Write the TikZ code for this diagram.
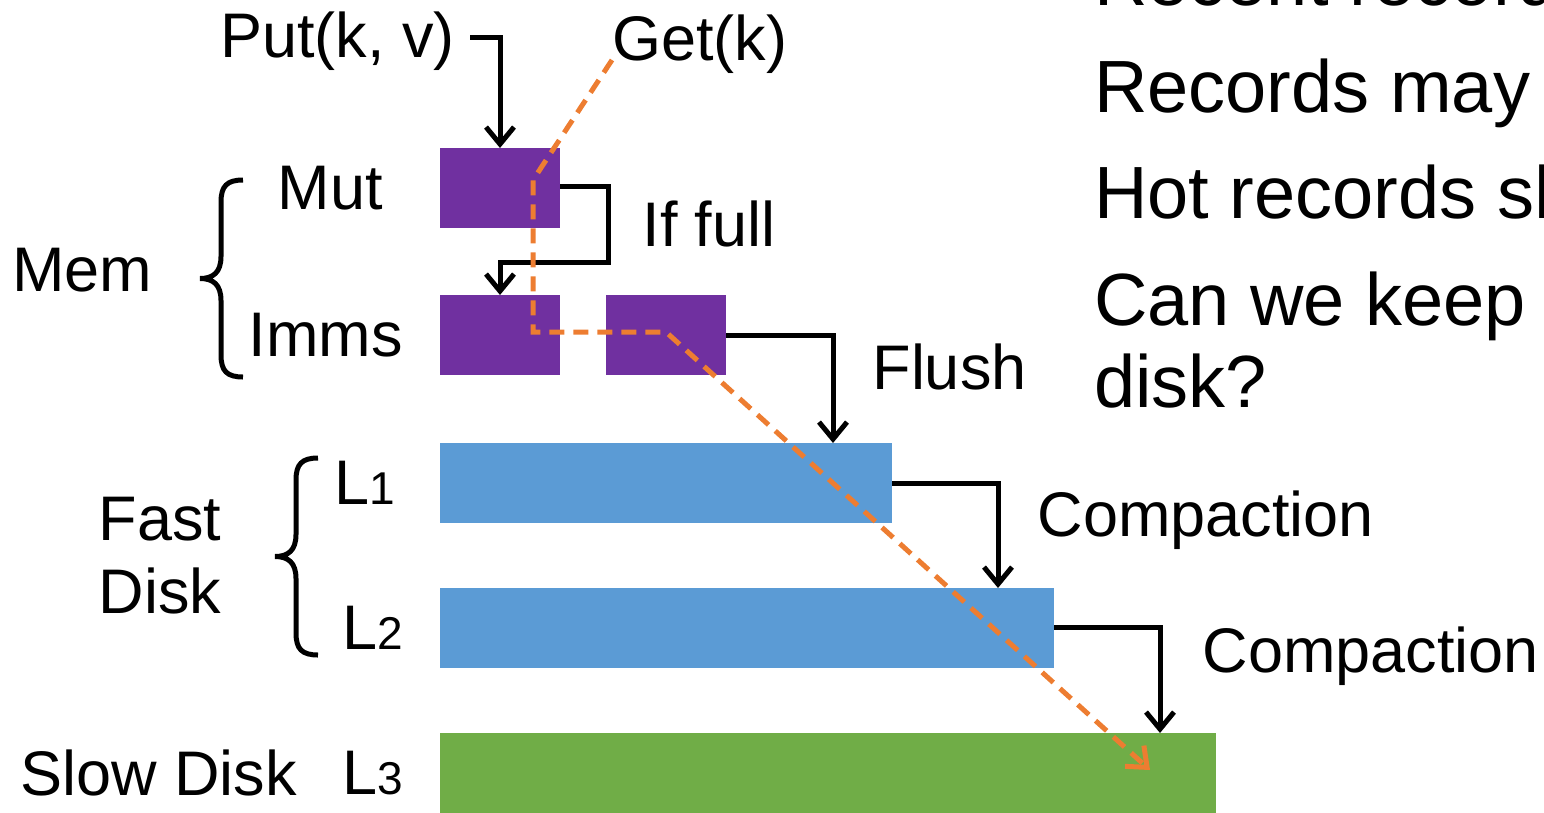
\documentclass[tikz,border=0pt]{standalone}
\usepackage{fontspec}
\setmainfont{Liberation Sans}
\usepackage{xcolor}
\usetikzlibrary{arrows.meta,positioning}

\definecolor{memcol}{HTML}{7030A0}
\definecolor{fastcol}{HTML}{5B9BD5}
\definecolor{slowcol}{HTML}{70AD47}
\definecolor{getcol}{HTML}{ED7D31}
\newcommand{\lvlsub}[1]{{\fontsize{46}{50}\selectfont #1}}

\begin{document}
\begin{tikzpicture}[
  x=1pt, y=-1pt,
  node distance=67pt and 46pt,
  memtab/.style={fill=memcol, minimum width=120pt, minimum height=80pt, inner sep=0pt, outer sep=0pt},
  level/.style={fill=#1, minimum height=80pt, inner sep=0pt, outer sep=0pt},
  lbl/.style={inner sep=0pt, font=\fontsize{63}{73}\selectfont},
  note/.style={inner sep=0pt, anchor=base west, font=\fontsize{74}{82}\selectfont},
  arr/.style={-{Straight Barb[length=17pt,width=28pt]}, line width=5pt},
  getline/.style={-{Straight Barb[length=17pt,width=28pt]}, line width=5pt, draw=getcol, dash pattern=on 15pt off 9pt},
  grp/.style={line width=5pt}
]
  \useasboundingbox (0,0) rectangle (1544,812);

  % memtables
  \node[memtab] (mut) at (500,188) {};
  \node[memtab, below=of mut] (imm1) {};
  \node[memtab, right=of imm1] (imm2) {};

  % disk levels
  \node[level=fastcol, minimum width=452pt, below=68pt of imm1.south west, anchor=north west] (l1) {};
  \node[level=fastcol, minimum width=614pt, below=65pt of l1.south west, anchor=north west] (l2) {};
  \node[level=slowcol, minimum width=776pt, below=65pt of l2.south west, anchor=north west] (l3) {};

  % labels on the left
  \node[lbl, left=57pt of mut] (mutlab) {Mut};
  \node[lbl, left=37pt of imm1] (immlab) {Imms};
  \node[lbl, left=45pt of l1] (l1lab) {L\lvlsub{1}};
  \node[lbl, left=37pt of l2] (l2lab) {L\lvlsub{2}};
  \node[lbl, left=37pt of l3] (l3lab) {L\lvlsub{3}};
  \node[lbl, left=45pt of l3lab] (slow) {Slow Disk};
  \node[lbl] (mem) at (82,270) {Mem};
  \node[lbl, align=left] (fast) at (160,556) {Fast\\Disk};

  % braces: end x / top / bottom
  \foreach \bx/\btop/\bbot in {243/180/377, 318/458/655} {
    \pgfmathsetmacro{\bmid}{(\btop+\bbot)/2}
    \draw[grp] (\bx,\btop) .. controls (\bx-16,\btop) and (\bx-22,\btop+6) .. (\bx-22,\btop+22)
      -- (\bx-22,\bmid-22) .. controls (\bx-22,\bmid-6) and (\bx-30,\bmid) .. (\bx-43,\bmid)
      .. controls (\bx-30,\bmid) and (\bx-22,\bmid+6) .. (\bx-22,\bmid+22)
      -- (\bx-22,\bbot-22) .. controls (\bx-22,\bbot-6) and (\bx-16,\bbot) .. (\bx,\bbot);
  }

  % operations
  \node[lbl, inner xsep=15pt, anchor=base east] (put) at (470,57) {Put(k, v)};
  \node[lbl, anchor=base west] (get) at (612,60) {Get(k)};

  \draw[arr] ([yshift=3pt]put.east) -| (mut.north);
  \draw[arr] ([yshift=2pt]mut.east) -- ++(48,0) -- node[lbl, right=32pt]{If full} ++(0,76) -| (imm1.north);

  \coordinate (flushin) at ([xshift=-59pt]l1.north east);
  \coordinate (cmp1in) at ([xshift=-56pt]l2.north east);
  \coordinate (cmp2in) at ([xshift=-56pt]l3.north east);
  \draw[arr] (imm2.east) -| node[lbl, pos=0.65, right=37pt]{Flush} (flushin);
  \draw[arr] (l1.east) -| node[lbl, pos=0.675, right=37pt]{Compaction} (cmp1in);
  \draw[arr] ([yshift=1pt]l2.east) -| node[lbl, pos=0.64, right=40pt]{Compaction} (cmp2in);

  % lookup path
  \coordinate (gmut) at ([xshift=33pt, yshift=8pt]mut.center);
  \coordinate (gend) at ([xshift=-66pt, yshift=3pt]l3.east);
  \draw[getline] (get.base west) -- (gmut) |- ([yshift=3pt]imm2.center) -- (gend);

  % notes on the right
  \node[note] (recent) at (1094,5) {Recent records};
  \node[note] (maybe) at (1094,112) {Records may};
  \node[note] (hot) at (1094,218) {Hot records sh};
  \node[note] (keep) at (1094,325) {Can we keep};
  \node[note] (disk) at (1094,407) {disk?};
\end{tikzpicture}
\end{document}
